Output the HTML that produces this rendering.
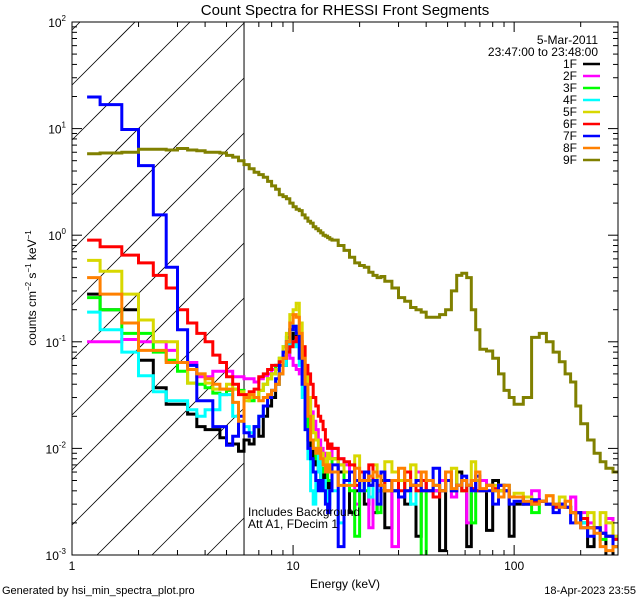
<!DOCTYPE html>
<html><head><meta charset="utf-8"><style>
html,body{margin:0;padding:0;background:#fff;width:640px;height:600px;overflow:hidden;}
svg{display:block;font-family:"Liberation Sans",sans-serif;}
</style></head><body>
<svg id="c" width="640" height="600" viewBox="0 0 640 600"></svg>
<script>
const edges=[1.17,1.34,1.68,2.0,2.333,2.667,3.0,3.333,3.667,4.0,4.333,4.667,5.0,5.333,5.667,6.0,6.333,6.667,7.0,7.333,7.667,8.0,8.333,8.667,9.0,9.333,9.667,10.0,10.333,10.667,11.0,11.333,11.667,12.0,12.333,12.667,13.0,13.333,13.667,14.0,14.333,14.667,15.0,16,17,18,19,20,21,22,23,24,25,26,28,30,32,34,36,38,40,43,46,49,52,55,58,61,64,67,70,75,80,85,90,95,100,110,120,130,140,150,160,170,180,190,200,215,230,245,260,280,295];
const seriesNames=["1F","2F","3F","4F","5F","6F","7F","8F","9F"];
const s1F=[0.28,0.2,0.2,0.067,0.037,0.026,0.026,0.021,0.016,0.015,0.015,0.0126,0.011,0.011,0.0094,0.012,0.011,0.016,0.013,0.02,0.025,0.03,0.04,0.05,0.06,0.08,0.1,0.12,0.11,0.07,0.04,0.02,0.012,0.01,0.008,0.007,0.006,0.005,0.006,0.005,0.004,0.005,
0.008,0.006,0.005,0.0025,0.004,0.005,0.003,0.0045,0.0025,0.004,0.005,0.0018,0.004,0.005,0.003,0.0045,0.0015,0.004,0.005,0.004,0.0011,0.005,0.004,0.006,0.004,0.0012,0.005,0.004,0.004,0.0017,0.005,0.004,0.0045,0.0015,0.003,0.0035,0.003,0.0032,0.003,0.0028,0.003,0.0028,0.0025,0.0025,0.002,0.0012,0.0018,0.0016,0.0009,0.0014];
const s2F=[0.1,0.1,0.105,0.1,0.1,0.083,0.064,0.064,0.047,0.047,0.053,0.053,0.053,0.047,0.047,0.045,0.045,0.042,0.045,0.048,0.05,0.055,0.06,0.065,0.072,0.075,0.07,0.06,0.055,0.05,0.04,0.035,0.03,0.022,0.018,0.015,0.012,0.01,0.009,0.008,0.007,0.006,
0.01,0.008,0.007,0.006,0.003,0.005,0.006,0.0018,0.005,0.004,0.006,0.005,0.0012,0.005,0.004,0.0045,0.006,0.004,0.005,0.004,0.005,0.006,0.0035,0.0045,0.004,0.002,0.005,0.004,0.005,0.0045,0.004,0.0045,0.004,0.0035,0.0035,0.003,0.004,0.0032,0.003,0.0028,0.003,0.0028,0.0035,0.0025,0.0025,0.002,0.0018,0.0016,0.0022,0.0015];
const s3F=[0.26,0.2,0.12,0.12,0.08,0.067,0.053,0.041,0.04,0.037,0.033,0.032,0.035,0.036,0.035,0.03,0.028,0.03,0.035,0.04,0.045,0.05,0.06,0.07,0.09,0.11,0.13,0.14,0.12,0.08,0.05,0.025,0.015,0.012,0.01,0.008,0.007,0.006,0.0065,0.006,0.005,0.005,
0.008,0.007,0.005,0.004,0.0015,0.005,0.004,0.0045,0.005,0.0025,0.004,0.005,0.004,0.005,0.004,0.0045,0.004,0.0009,0.004,0.0045,0.004,0.005,0.004,0.0045,0.004,0.0045,0.002,0.004,0.004,0.0045,0.004,0.0045,0.004,0.0035,0.0035,0.003,0.0025,0.0032,0.003,0.0028,0.003,0.0028,0.0025,0.0025,0.002,0.0018,0.0018,0.0014,0.0015,0.0012];
const s4F=[0.19,0.13,0.08,0.048,0.034,0.028,0.028,0.023,0.02,0.023,0.023,0.032,0.032,0.02,0.018,0.016,0.014,0.016,0.02,0.025,0.03,0.035,0.04,0.05,0.06,0.08,0.1,0.1,0.09,0.06,0.03,0.015,0.008,0.004,0.003,0.006,0.01,0.004,0.005,0.004,0.003,0.004,
0.004,0.002,0.005,0.0045,0.005,0.004,0.005,0.0035,0.006,0.004,0.0045,0.005,0.004,0.005,0.004,0.003,0.004,0.004,0.004,0.0045,0.004,0.005,0.004,0.0045,0.004,0.0045,0.004,0.004,0.004,0.0045,0.004,0.0045,0.004,0.0035,0.0035,0.003,0.003,0.0032,0.003,0.0028,0.003,0.0028,0.0025,0.0025,0.002,0.0018,0.0018,0.0016,0.0015,0.0014];
const s5F=[0.58,0.46,0.28,0.16,0.1,0.1,0.064,0.041,0.05,0.041,0.036,0.036,0.04,0.036,0.034,0.028,0.03,0.03,0.035,0.04,0.045,0.05,0.055,0.07,0.09,0.12,0.18,0.2,0.23,0.15,0.09,0.05,0.03,0.02,0.014,0.012,0.01,0.009,0.008,0.007,0.009,0.008,
0.008,0.007,0.006,0.006,0.0085,0.005,0.006,0.005,0.007,0.0045,0.004,0.0075,0.006,0.005,0.004,0.007,0.004,0.004,0.004,0.0045,0.004,0.005,0.0065,0.0045,0.004,0.0045,0.0075,0.005,0.004,0.0045,0.0045,0.004,0.0045,0.0035,0.0038,0.0035,0.003,0.0032,0.0036,0.003,0.0035,0.0028,0.0025,0.0025,0.0022,0.0025,0.0018,0.0025,0.002,0.0015];
const s6F=[0.9,0.78,0.65,0.55,0.42,0.32,0.2,0.15,0.12,0.1,0.075,0.064,0.047,0.04,0.032,0.032,0.034,0.036,0.047,0.05,0.055,0.06,0.06,0.065,0.07,0.08,0.09,0.1,0.11,0.1,0.09,0.06,0.05,0.04,0.03,0.025,0.02,0.018,0.015,0.012,0.01,0.011,
0.01,0.008,0.0075,0.007,0.0045,0.006,0.005,0.007,0.005,0.0045,0.006,0.004,0.005,0.004,0.006,0.0045,0.004,0.005,0.004,0.0035,0.004,0.005,0.004,0.0045,0.004,0.0045,0.0042,0.004,0.004,0.0045,0.0042,0.0045,0.004,0.0035,0.0035,0.003,0.0032,0.0032,0.003,0.0028,0.003,0.0028,0.0025,0.0025,0.0022,0.0018,0.0018,0.0016,0.0015,0.0014];
const s7F=[19.8,16.8,9.8,4.5,1.55,0.5,0.13,0.06,0.028,0.028,0.016,0.016,0.0107,0.013,0.02,0.014,0.013,0.016,0.02,0.025,0.03,0.035,0.045,0.06,0.08,0.1,0.13,0.14,0.12,0.07,0.04,0.015,0.01,0.008,0.006,0.005,0.004,0.005,0.004,0.003,0.0025,0.004,
0.007,0.0012,0.005,0.006,0.005,0.004,0.006,0.0045,0.005,0.003,0.006,0.005,0.004,0.0035,0.004,0.0045,0.005,0.004,0.004,0.0065,0.004,0.005,0.004,0.0045,0.0055,0.0045,0.004,0.0055,0.004,0.004,0.003,0.0045,0.004,0.003,0.0032,0.003,0.0033,0.0032,0.003,0.0025,0.003,0.0028,0.002,0.0025,0.0018,0.0015,0.0018,0.0016,0.0015,0.0012];
const s8F=[0.4,0.28,0.15,0.083,0.083,0.064,0.064,0.055,0.05,0.045,0.04,0.036,0.036,0.027,0.018,0.03,0.032,0.03,0.028,0.03,0.032,0.035,0.04,0.05,0.07,0.1,0.15,0.18,0.17,0.12,0.07,0.04,0.02,0.012,0.01,0.009,0.01,0.008,0.007,0.006,0.007,0.006,
0.006,0.0045,0.0045,0.0045,0.0065,0.005,0.005,0.0055,0.006,0.0055,0.0045,0.004,0.005,0.0065,0.005,0.0045,0.0045,0.006,0.005,0.0045,0.004,0.006,0.0042,0.0045,0.005,0.0045,0.005,0.006,0.0042,0.0045,0.004,0.0035,0.0045,0.0035,0.0035,0.0032,0.003,0.0032,0.0036,0.003,0.0028,0.0032,0.0025,0.002,0.0018,0.0018,0.0016,0.0012,0.0011,0.0012];
const s9F=[5.8,5.9,6.0,6.4,6.4,6.3,6.5,6.3,6.2,6.0,6.0,5.9,5.6,5.4,5.0,4.6,4.2,3.9,3.7,3.5,3.2,2.9,2.7,2.4,2.3,2.2,2.0,1.85,1.75,1.7,1.55,1.45,1.35,1.3,1.2,1.15,1.1,1.05,1.0,0.98,0.95,0.92,
0.9,0.8,0.72,0.62,0.55,0.52,0.5,0.45,0.42,0.4,0.41,0.37,0.32,0.26,0.24,0.21,0.2,0.19,0.17,0.17,0.18,0.2,0.3,0.42,0.44,0.4,0.2,0.13,0.085,0.082,0.07,0.05,0.035,0.03,0.026,0.03,0.11,0.12,0.1,0.08,0.065,0.05,0.042,0.025,0.017,0.012,0.009,0.0075,0.0065,0.006];
const xTickLabels=["1","10","100"];
const yTickExps=[2,1,0,-1,-2,-3];

const series=[s1F,s2F,s3F,s4F,s5F,s6F,s7F,s8F,s9F];
const colors=["#000000","#ff00ff","#00ff00","#00ffff","#d8d800","#ff0000","#0000ff","#ff8000","#808000"];
const L=72,R=618,T=22,B=555,XMIN=1,XMAX=295,YMIN=-3,YMAX=2;
const xs=e=>L+(Math.log10(e)-Math.log10(XMIN))/(Math.log10(XMAX)-Math.log10(XMIN))*(R-L);
const ys=v=>B-(Math.log10(v)-YMIN)/(YMAX-YMIN)*(B-T);
const NS="http://www.w3.org/2000/svg";
const svg=document.getElementById('c');
function mk(tag,attrs,parent){const el=document.createElementNS(NS,tag);for(const k in attrs)el.setAttribute(k,attrs[k]);(parent||svg).appendChild(el);return el;}

const defs=mk('defs',{});
const cp=mk('clipPath',{id:'pc'},defs);mk('rect',{x:L,y:T,width:R-L,height:B-T},cp);

// hatch lines clipped analytically: y = y0 - (x - L)
const X6=xs(6);
const hatch=mk('g',{});


for(let k=-12;k<14;k++){
  const y0=85+k*55;
  // x range where y within [T,B]
  let xa=Math.max(L, L+(y0-B)), xb=Math.min(X6, L+(y0-T));
  if(xb<=xa) continue;
  mk('line',{x1:xa,y1:y0-(xa-L),x2:xb,y2:y0-(xb-L),stroke:'#000','stroke-width':0.8},hatch);
}
const vl=mk('line',{x1:X6,y1:T,x2:X6,y2:B,stroke:'#000','stroke-width':1});



const plot=mk('g',{'clip-path':'url(#pc)'});
const yc=v=>Math.min(B+3,Math.max(T-3,ys(v)));
series.forEach((vals,si)=>{
  let d='';
  for(let i=0;i<vals.length;i++){
    const x0=xs(edges[i]),x1=xs(edges[i+1]),y=yc(vals[i]);
    d+=(i===0?'M':'L')+x0.toFixed(1)+','+y.toFixed(1)+'L'+x1.toFixed(1)+','+y.toFixed(1);
  }
  const p=mk('path',{d:d,fill:'none',stroke:colors[si],'stroke-width':3,'stroke-linejoin':'miter'},plot);
  
  
});

const fr=mk('rect',{x:L,y:T,width:R-L,height:B-T,fill:'none',stroke:'#000','stroke-width':1});


const ax=mk('g',{stroke:'#000','stroke-width':1});


for(let dec=0;dec<=2;dec++){for(let m=1;m<=9;m++){const e=m*Math.pow(10,dec);if(e>XMAX)break;const x=xs(e);const len=m===1?10:5;
 mk('line',{x1:x,y1:B,x2:x,y2:B-len},ax);mk('line',{x1:x,y1:T,x2:x,y2:T+len},ax);}}
for(let dec=-3;dec<=2;dec++){for(let m=1;m<=9;m++){const v=m*Math.pow(10,dec);if(Math.log10(v)>YMAX+1e-9)break;const y=ys(v);const len=m===1?10:5;
 mk('line',{x1:L,y1:y,x2:L+len,y2:y},ax);mk('line',{x1:R,y1:y,x2:R-len,y2:y},ax);}}

xTickLabels.forEach(t=>{const tx=mk('text',{x:xs(parseFloat(t)),y:570,'font-size':12,'text-anchor':'middle'});tx.textContent=t;
 
 });
yTickExps.forEach(ex=>{const y=ys(Math.pow(10,ex));const tx=mk('text',{x:66,y:y+5,'font-size':12,'text-anchor':'end'});
 const a=mk('tspan',{},tx);a.textContent='10';const b=mk('tspan',{dy:-6,'font-size':8},tx);b.textContent=String(ex);
 
 });

function txt(s,x,y,size,anchor,name,extra){const t=mk('text',Object.assign({x:x,y:y,'font-size':size,'text-anchor':anchor||'start'},extra||{}));t.textContent=s;
 
 return t;}
txt('Count Spectra for RHESSI Front Segments',345,15,15,'middle','chart-title');
txt('Energy (keV)',345,588,12,'middle','x-axis-title');
const yt=mk('text',{x:0,y:0,'font-size':12,'text-anchor':'middle',transform:'translate(36,288) rotate(-90)'});


yt.innerHTML='counts cm<tspan dy="-5" font-size="8">−2</tspan><tspan dy="5"> s</tspan><tspan dy="-5" font-size="8">−1</tspan><tspan dy="5"> keV</tspan><tspan dy="-5" font-size="8">−1</tspan>';
txt('Generated by hsi_min_spectra_plot.pro',2,594,11,'start','footer-generator');
txt('18-Apr-2023 23:55',636,594,11,'end','footer-date');
txt('Includes Background',248,516,12,'start','background-note');
txt('Att A1, FDecim 1',248,528,12,'start','attenuator-note');
txt('5-Mar-2011',598,44,12,'end','legend-date');
txt('23:47:00 to 23:48:00',598,56,12,'end','legend-time-range');
seriesNames.forEach((n,i)=>{const y=68+i*12;
 const g=mk('g',{});
 
 
 const t=mk('text',{x:577,y:y,'font-size':12,'text-anchor':'end'},g);t.textContent=n;
 mk('line',{x1:583,y1:y-4,x2:600,y2:y-4,stroke:colors[i],'stroke-width':2.5},g);});
</script>
</body></html>
